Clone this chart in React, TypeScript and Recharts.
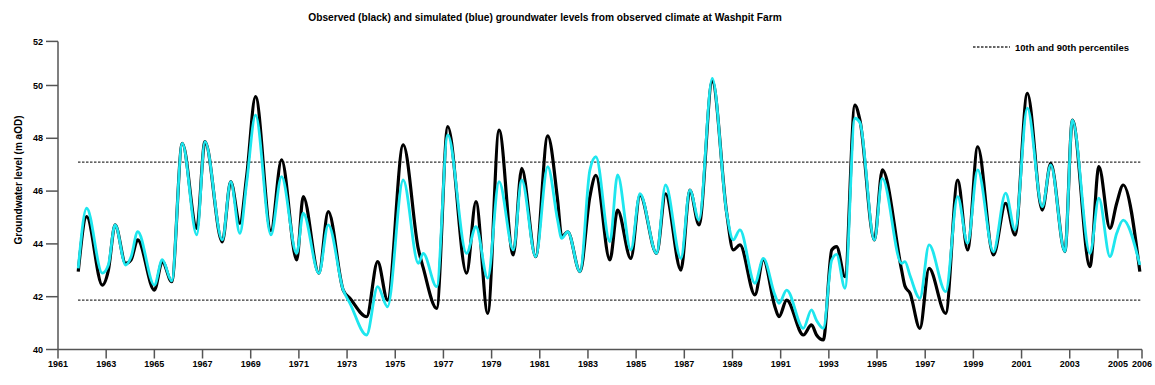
import React from 'react';
import { LineChart, Line, XAxis, YAxis, ReferenceLine } from 'recharts';

const years = [
  1961.84, 1962.19, 1962.84, 1963.09, 1963.37, 1963.81, 1964.03, 1964.31, 1965.0, 1965.33,
  1965.72, 1966.16, 1966.76, 1967.1, 1967.82, 1968.17, 1968.55, 1968.83, 1969.2, 1969.84,
  1970.28, 1970.91, 1971.18, 1971.83, 1972.22, 1972.84, 1973.12, 1973.81, 1974.27, 1974.68,
  1975.33, 1975.96, 1976.16, 1976.72, 1977.18, 1977.96, 1978.35, 1978.84, 1979.31, 1979.9,
  1980.25, 1980.83, 1981.33, 1981.74, 1981.91, 1982.16, 1982.67, 1983.08, 1983.33, 1983.91,
  1984.23, 1984.78, 1985.16, 1985.85, 1986.22, 1986.86, 1987.23, 1987.61, 1988.16, 1988.76,
  1989.03, 1989.31, 1989.93, 1990.28, 1990.76, 1990.93, 1991.25, 1991.94, 1992.28, 1992.49,
  1992.77, 1993.12, 1993.32, 1993.67, 1994.08, 1994.29, 1994.89, 1995.22, 1996.02, 1996.16,
  1996.37, 1996.78, 1997.16, 1997.85, 1998.35, 1998.76, 1999.18, 1999.83, 2000.34, 2000.73,
  2001.24, 2001.86, 2002.21, 2002.8, 2003.11, 2003.84, 2004.21, 2004.67, 2004.95, 2005.22,
  2005.91,
];

const observed = [
  42.95, 45.03, 42.44, 43.0, 44.72, 43.26, 43.39, 44.15, 42.25, 43.33,
  42.57, 47.81, 44.59, 47.87, 44.08, 46.36, 44.78, 46.55, 49.58, 44.5,
  47.18, 43.39, 45.79, 42.89, 45.22, 42.25, 41.94, 41.24, 43.33, 41.87,
  47.75, 43.8, 43.1, 41.56, 48.44, 42.89, 45.6, 41.37, 48.31, 43.58,
  46.86, 43.52, 48.09, 45.66, 44.27, 44.46, 42.95, 45.79, 46.6, 43.39,
  45.28, 43.45, 45.85, 43.64, 45.9, 43.01, 46.04, 44.72, 50.15, 45.16,
  43.77, 43.96, 42.07, 43.4, 41.62, 41.24, 41.87, 40.55, 40.93, 40.55,
  40.36, 43.77, 43.9, 42.76, 49.26, 48.69, 44.15, 46.8, 43.01, 42.4,
  42.13, 40.8, 43.07, 41.37, 46.42, 43.77, 47.68, 43.58, 45.54, 44.34,
  49.7, 45.28, 47.05, 43.71, 48.69, 43.14, 46.93, 44.59, 45.54, 46.23,
  42.95,
];

const simulated = [
  43.07, 45.35, 42.89, 43.2, 44.72, 43.2, 43.5, 44.46, 42.44, 43.4,
  42.6, 47.81, 44.34, 47.87, 44.15, 46.36, 44.4, 46.3, 48.88, 44.34,
  46.55, 43.64, 45.16, 42.89, 44.72, 42.25, 41.75, 40.55, 42.38, 41.62,
  46.42, 43.26, 43.64, 42.38, 48.13, 43.64, 44.65, 42.7, 46.36, 43.77,
  46.42, 43.52, 46.93, 44.9, 44.21, 44.46, 42.95, 46.8, 47.3, 44.08,
  46.61, 43.77, 45.9, 43.64, 46.23, 43.45, 46.04, 44.9, 50.27, 45.16,
  44.15, 44.53, 42.51, 43.45, 42.07, 41.75, 42.25, 40.8, 41.5, 41.1,
  40.8, 43.39, 43.6, 42.32, 48.76, 48.6, 44.15, 46.48, 43.26, 43.33,
  42.8, 41.94, 43.96, 42.19, 45.79, 44.02, 46.8, 43.7, 45.92, 44.53,
  49.14, 45.41, 46.99, 43.71, 48.69, 43.64, 45.73, 43.52, 44.4, 44.9,
  43.2,
];

const xTicks = [
  1961, 1963, 1965, 1967, 1969, 1971, 1973, 1975, 1977, 1979, 1981, 1983,
  1985, 1987, 1989, 1991, 1993, 1995, 1997, 1999, 2001, 2003, 2005, 2006,
];
const yTicks = [40, 42, 44, 46, 48, 50, 51.67];

const percentile10 = 41.87;
const percentile90 = 47.1;
const percentileStart = 1961.83;
const percentileEnd = 2005.93;

const title =
  'Observed (black) and simulated (blue) groundwater levels from observed climate at Washpit Farm';
const yLabel = 'Groundwater level (m aOD)';
const legendLabel = '10th and 90th percentiles';

const data = years.map((y, i) => ({ year: y, obs: observed[i], sim: simulated[i] }));

const FONT = '"Liberation Sans", Arial, sans-serif';
const AXIS = '#555';

export default function App() {
  return (
    <div style={{ position: 'absolute', left: 0, top: 0, width: 1155, height: 385, background: '#fff' }}>
      <LineChart
        width={1155}
        height={385}
        data={data}
        margin={{ top: 41.4, right: 13, bottom: 5.5, left: 0 }}
      >
        <XAxis
          dataKey="year"
          type="number"
          domain={[1961, 2006]}
          ticks={xTicks}
          interval={0}
          allowDecimals
          height={30}
          tickSize={9}
          tickMargin={2}
          stroke={AXIS}
          strokeWidth={1.5}
          tick={{ fontSize: 9, fontWeight: 'bold', fill: '#000', fontFamily: FONT }}
        />
        <YAxis
          type="number"
          domain={[40, 51.67]}
          ticks={yTicks}
          interval={0}
          width={58}
          tickSize={12}
          tickMargin={3}
          stroke={AXIS}
          strokeWidth={1.5}
          allowDataOverflow
          tickFormatter={(v: number) => String(Math.round(v))}
          tick={{ fontSize: 9, fontWeight: 'bold', fill: '#000', fontFamily: FONT }}
        />
        <ReferenceLine
          segment={[
            { x: percentileStart, y: percentile90 },
            { x: percentileEnd, y: percentile90 },
          ]}
          stroke="#333"
          strokeWidth={1.3}
          strokeDasharray="2.5 1.5"
        />
        <ReferenceLine
          segment={[
            { x: percentileStart, y: percentile10 },
            { x: percentileEnd, y: percentile10 },
          ]}
          stroke="#333"
          strokeWidth={1.3}
          strokeDasharray="2.5 1.5"
        />
        <Line
          type="monotone"
          dataKey="obs"
          stroke="#000"
          strokeWidth={3.2}
          dot={false}
          isAnimationActive={false}
        />
        <Line
          type="monotone"
          dataKey="sim"
          stroke="#1ee6ee"
          strokeWidth={2.8}
          dot={false}
          isAnimationActive={false}
        />
      </LineChart>
      <svg
        width={1155}
        height={385}
        style={{ position: 'absolute', left: 0, top: 0, pointerEvents: 'none' }}
      >
        <text
          x={545}
          y={21}
          textAnchor="middle"
          fontSize={10.2}
          fontWeight="bold"
          fontFamily={FONT}
          fill="#000"
        >
          {title}
        </text>
        <text
          transform="translate(21.5,180) rotate(-90)"
          textAnchor="middle"
          fontSize={10}
          fontWeight="bold"
          fontFamily={FONT}
          fill="#000"
        >
          {yLabel}
        </text>
        <line x1={973} y1={47} x2={1010} y2={47} stroke="#333" strokeWidth={1.3} strokeDasharray="2.5 1.5" />
        <text x={1015} y={50.5} fontSize={9.5} fontWeight="bold" fontFamily={FONT} fill="#000">
          {legendLabel}
        </text>
      </svg>
    </div>
  );
}
